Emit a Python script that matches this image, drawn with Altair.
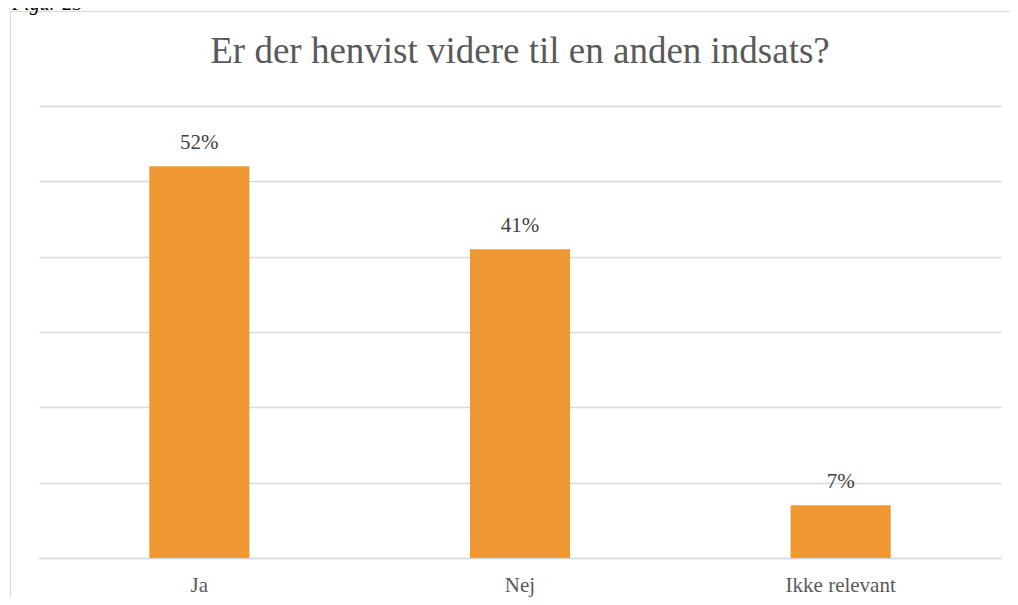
import altair as alt
import pandas as pd

categories = ["Ja", "Nej", "Ikke relevant"]
values = [52, 41, 7]
labels = ["52%", "41%", "7%"]

df = pd.DataFrame({"kategori": categories, "andel": values, "label": labels})

W, H = 962, 452
FONT = "Liberation Serif"

x_enc = alt.X("kategori:N", sort=categories,
              scale=alt.Scale(paddingInner=0.688, paddingOuter=0.344),
              axis=alt.Axis(title=None, labelAngle=0, labelFontSize=21, labelFont=FONT,
                            labelColor="#595959", labelPadding=16, ticks=False,
                            domainColor="#d9d9d9", domainWidth=1.5))
y_enc = alt.Y("andel:Q", scale=alt.Scale(domain=[0, 60], nice=False),
              axis=alt.Axis(title=None, labels=False, ticks=False, domain=False,
                            values=[0, 10, 20, 30, 40, 50, 60],
                            gridColor="#d9d9d9", gridWidth=1.5))

base = alt.Chart(df)

frame = alt.Chart(pd.DataFrame({"a": [0]})).mark_rect(
    filled=False, stroke="#d9d9d9", strokeWidth=1.2
).encode(x=alt.value(-28.5), x2=alt.value(W + 40), y=alt.value(-94.5), y2=alt.value(H + 80))

fig = alt.Chart(pd.DataFrame({"t": ["Figur 25"]})).mark_text(
    align="left", baseline="alphabetic", font=FONT, fontSize=20, fontStyle="italic", color="#000000"
).encode(x=alt.value(-27), y=alt.value(-96), text="t:N")

title = alt.Chart(pd.DataFrame({"t": ["Er der henvist videre til en anden indsats?"]})).mark_text(
    align="center", baseline="alphabetic", font=FONT, fontSize=37, color="#595959"
).encode(x=alt.value(W / 2), y=alt.value(-43), text="t:N")

bars = base.mark_bar(color="#ee9733").encode(x=x_enc, y=y_enc)

text = base.mark_text(baseline="alphabetic", dy=-17, fontSize=21, font=FONT, color="#404040").encode(
    x=alt.X("kategori:N", sort=categories), y="andel:Q", text="label:N")

chart = alt.layer(frame, fig, title, bars, text).properties(
    width=W, height=H,
    autosize=alt.AutoSizeParams(type="none"),
    padding={"left": 31, "top": 98, "right": 9, "bottom": 39},
    background="white",
).configure_view(stroke=None)

chart.save("out.html", embed_options={"renderer": "svg", "actions": False})
